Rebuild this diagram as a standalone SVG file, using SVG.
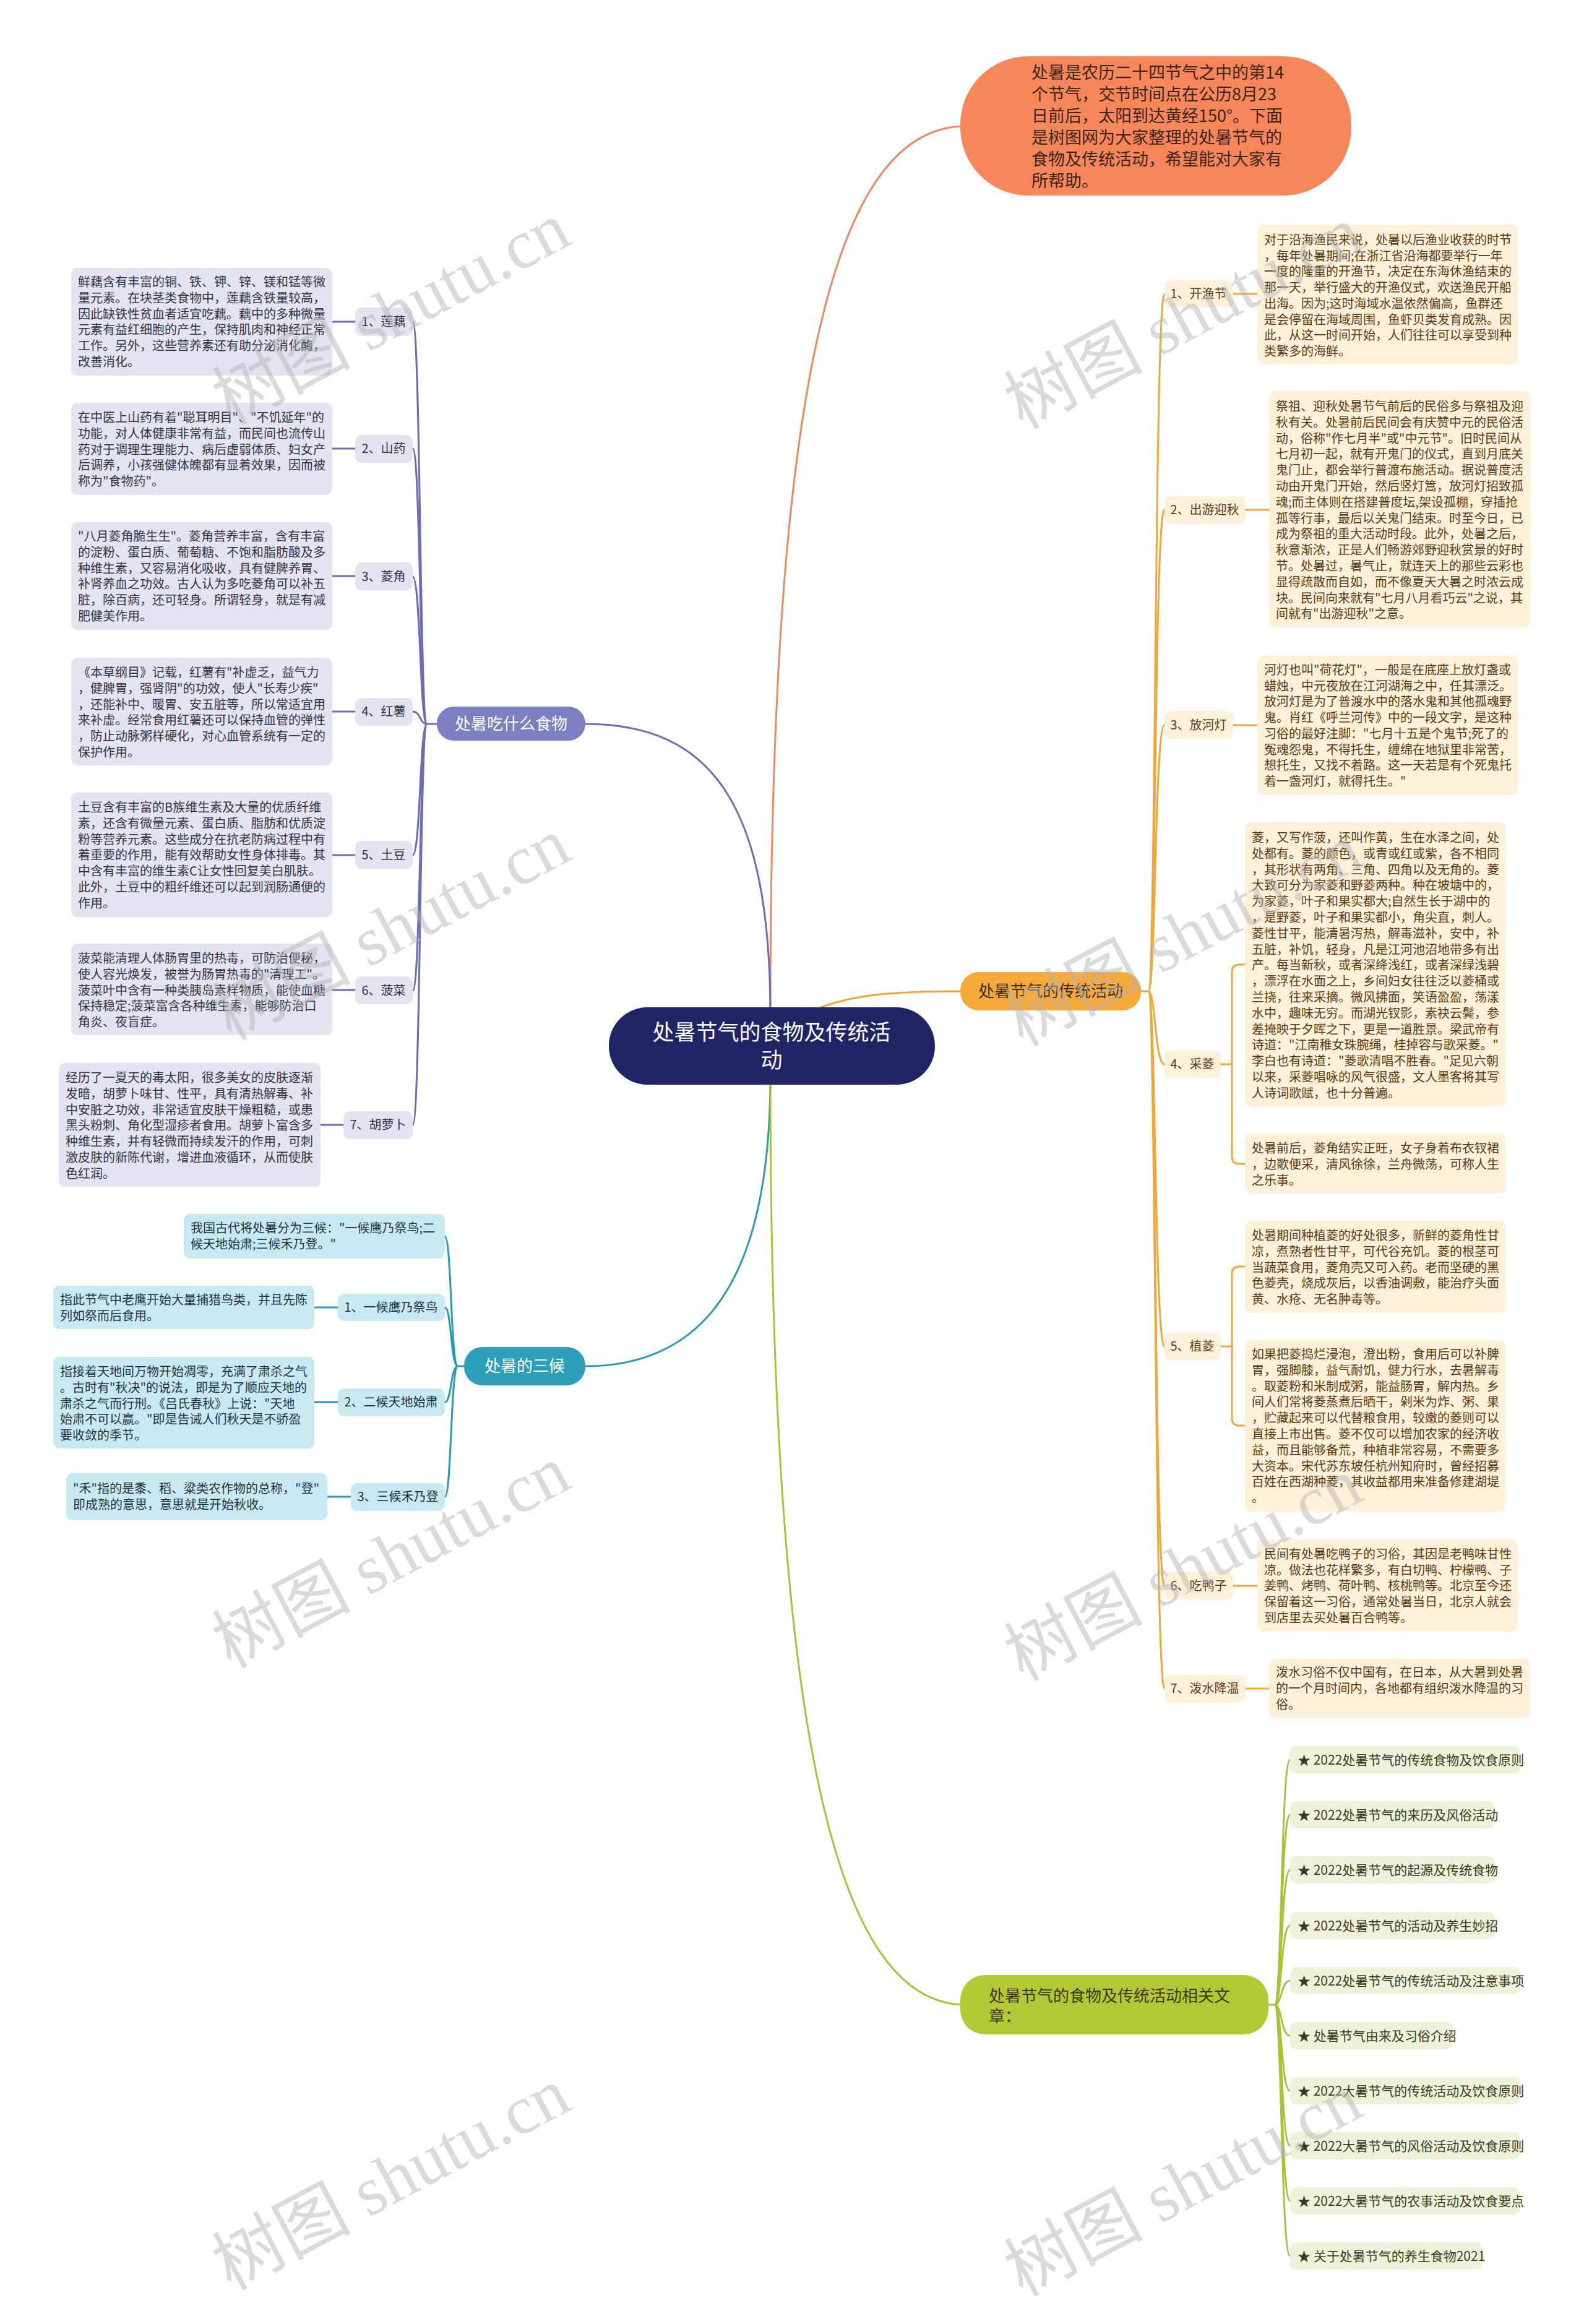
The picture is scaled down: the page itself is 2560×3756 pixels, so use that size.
<svg xmlns="http://www.w3.org/2000/svg" width="2560" height="3756" viewBox="0 0 2560 3756">
<style>
.t{font-family:"Noto Sans CJK SC","Noto Sans",sans-serif;font-size:20px}
.bp{fill:#E3E3F1}.bt{fill:#C9E9F2}.bo{fill:#FEF0D9}.bg{fill:#EEF2DA}
.tp{fill:#333344}.tt{fill:#1d3440}.to{fill:#5a3a12}.tg{fill:#3a3a22}
.lp{stroke:#6D6DB6;fill:none;stroke-width:3}
.lt{stroke:#2A9BB6;fill:none;stroke-width:3}
.lo{stroke:#F2A53A;fill:none;stroke-width:3}
.lg{stroke:#AAC23A;fill:none;stroke-width:3}
.lc{stroke:#F0875E;fill:none;stroke-width:3}
.lab{font-family:"Noto Sans CJK SC","Noto Sans",sans-serif;font-size:20px;text-anchor:middle}
.br{font-family:"Noto Sans CJK SC","Noto Sans",sans-serif;font-size:26px;text-anchor:middle}
.wm{font-family:"Liberation Serif","Noto Sans CJK SC",serif;font-size:112px;fill:#b4b4b4;opacity:.48;text-anchor:middle}
</style>
<rect width="2560" height="3756" fill="#ffffff"/>

<g id="connectors">
<path class="lc" stroke-width="4" d="M1245 1640 C1245 700 1330 204 1560 204"/>
<path class="lp" stroke-width="4" d="M1245 1640 C1245 1300 1150 1170 946 1170"/>
<path class="lt" stroke-width="4" d="M1245 1740 C1245 2050 1150 2208 946 2208"/>
<path class="lg" stroke-width="4" d="M1245 1740 C1245 2800 1350 3240 1560 3240"/>
<path class="lo" stroke-width="4" d="M1316 1632 C1380 1606 1450 1602 1556 1602"/>
<path class="lp" d="M706 1170 H690 C678 1170 680 520 667 520 M690 1170 C678 1170 680 725 667 725 M690 1170 C678 1170 680 932 667 932 M690 1170 C678 1170 680 1150 667 1150 M690 1170 C678 1170 680 1382 667 1382 M690 1170 C678 1170 680 1601 667 1601 M690 1170 C678 1170 680 1818 667 1818"/>
<path class="lp" d="M537 520 H574 M537 725 H574 M537 931 H574 M537 1150 H574 M537 1382 H574 M537 1600 H574 M518 1818 H555"/>
<path class="lt" d="M750 2208 H740 C728 2208 730 1998 719 1998 M740 2208 C728 2208 730 2113 719 2113 M740 2208 C728 2208 730 2266 719 2266 M740 2208 C728 2208 730 2419 719 2419"/>
<path class="lt" d="M508 2113 H546 M508 2266 H546 M529 2419 H567"/>
<path class="lo" d="M1844 1602 H1856 C1868 1602 1866 475 1882 475 M1856 1602 C1868 1602 1866 824 1882 824 M1856 1602 C1868 1602 1866 1172 1882 1172 M1856 1602 C1868 1602 1866 1720 1882 1720 M1856 1602 C1868 1602 1866 2176 1882 2176 M1856 1602 C1868 1602 1866 2563 1882 2563 M1856 1602 C1868 1602 1866 2729 1882 2729"/>
<path class="lo" d="M1993 475 H2032 M2013 824 H2051 M1993 1172 H2032 M1993 2563 H2032 M2013 2729 H2051"/>
<path class="lo" d="M1973 1720 H1991 M2012 1559 H2003 Q1991 1559 1991 1571 V1869 Q1991 1881 2003 1881 H2012"/>
<path class="lo" d="M1973 2176 H1991 M2012 2047 H2003 Q1991 2047 1991 2059 V2292 Q1991 2304 2003 2304 H2012"/>
<path class="lg" d="M2050 3240 H2060 C2072 3240 2070 2844 2085 2844 M2060 3240 C2072 3240 2070 2933 2085 2933 M2060 3240 C2072 3240 2070 3022 2085 3022 M2060 3240 C2072 3240 2070 3112 2085 3112 M2060 3240 C2072 3240 2070 3201 2085 3201 M2060 3240 C2072 3240 2070 3290 2085 3290 M2060 3240 C2072 3240 2070 3379 2085 3379 M2060 3240 C2072 3240 2070 3468 2085 3468 M2060 3240 C2072 3240 2070 3557 2085 3557 M2060 3240 C2072 3240 2070 3646 2085 3646"/>
</g>

<g id="root">
<rect x="984" y="1628" width="527" height="125" rx="62" fill="#1E2466"/>
<text class="br" x="1247" y="1681" fill="#ffffff" style="font-size:35px">处暑节气的食物及传统活</text>
<text class="br" x="1247" y="1726" fill="#ffffff" style="font-size:35px">动</text>
</g>

<g id="intro">
<rect x="1552" y="91" width="632" height="225" rx="110" fill="#F8865B"/>
<text class="t" style="font-size:27px" fill="#3a2418"><tspan x="1667" y="127">处暑是农历二十四节气之中的第14</tspan><tspan x="1667" dy="35">个节气，交节时间点在公历8月23</tspan><tspan x="1667" dy="35">日前后，太阳到达黄经150°。下面</tspan><tspan x="1667" dy="35">是树图网为大家整理的处暑节气的</tspan><tspan x="1667" dy="35">食物及传统活动，希望能对大家有</tspan><tspan x="1667" dy="35">所帮助。</tspan></text>
</g>

<g id="branch-food">
<rect x="706" y="1142" width="240" height="55" rx="27" fill="#7D7FC2"/>
<text class="br" x="826" y="1179" fill="#ffffff">处暑吃什么食物</text>
</g>
<g id="branch-hou">
<rect x="750" y="2177" width="196" height="62" rx="30" fill="#2E9FBA"/>
<text class="br" x="848" y="2217" fill="#ffffff">处暑的三候</text>
</g>
<g id="branch-act">
<rect x="1552" y="1571" width="292" height="62" rx="30" fill="#F6A93B"/>
<text class="br" x="1698" y="1611" fill="#3a2a14">处暑节气的传统活动</text>
</g>
<g id="branch-art">
<rect x="1552" y="3192" width="498" height="96" rx="40" fill="#B2C834"/>
<text class="t" style="font-size:26px" fill="#3a3a14"><tspan x="1598" y="3235">处暑节气的食物及传统活动相关文</tspan><tspan x="1598" dy="33">章：</tspan></text>
</g>

<g id="food-1">
<rect class="bp" x="574" y="497" width="93" height="46" rx="10"/><text class="lab tp" x="620" y="527">1、莲藕</text>
<rect class="bp" x="115" y="433" width="422" height="174" rx="10"/>
<text class="t tp"><tspan x="126" y="463">鲜藕含有丰富的铜、铁、钾、锌、镁和锰等微</tspan><tspan x="126" dy="25.8">量元素。在块茎类食物中，莲藕含铁量较高，</tspan><tspan x="126" dy="25.8">因此缺铁性贫血者适宜吃藕。藕中的多种微量</tspan><tspan x="126" dy="25.8">元素有益红细胞的产生，保持肌肉和神经正常</tspan><tspan x="126" dy="25.8">工作。另外，这些营养素还有助分泌消化酶，</tspan><tspan x="126" dy="25.8">改善消化。</tspan></text>
</g>
<g id="food-2">
<rect class="bp" x="574" y="703" width="93" height="45" rx="10"/><text class="lab tp" x="620" y="732">2、山药</text>
<rect class="bp" x="115" y="651" width="422" height="149" rx="10"/>
<text class="t tp"><tspan x="126" y="682">在中医上山药有着"聪耳明目"、"不饥延年"的</tspan><tspan x="126" dy="25.8">功能，对人体健康非常有益，而民间也流传山</tspan><tspan x="126" dy="25.8">药对于调理生理能力、病后虚弱体质、妇女产</tspan><tspan x="126" dy="25.8">后调养，小孩强健体魄都有显着效果，因而被</tspan><tspan x="126" dy="25.8">称为"食物药"。</tspan></text>
</g>
<g id="food-3">
<rect class="bp" x="574" y="909" width="93" height="45" rx="10"/><text class="lab tp" x="620" y="939">3、菱角</text>
<rect class="bp" x="115" y="844" width="422" height="174" rx="10"/>
<text class="t tp"><tspan x="126" y="874">"八月菱角脆生生"。菱角营养丰富，含有丰富</tspan><tspan x="126" dy="25.8">的淀粉、蛋白质、葡萄糖、不饱和脂肪酸及多</tspan><tspan x="126" dy="25.8">种维生素，又容易消化吸收，具有健脾养胃、</tspan><tspan x="126" dy="25.8">补肾养血之功效。古人认为多吃菱角可以补五</tspan><tspan x="126" dy="25.8">脏，除百病，还可轻身。所谓轻身，就是有减</tspan><tspan x="126" dy="25.8">肥健美作用。</tspan></text>
</g>
<g id="food-4">
<rect class="bp" x="574" y="1128" width="93" height="45" rx="10"/><text class="lab tp" x="620" y="1157">4、红薯</text>
<rect class="bp" x="115" y="1063" width="422" height="174" rx="10"/>
<text class="t tp"><tspan x="126" y="1094">《本草纲目》记载，红薯有"补虚乏，益气力</tspan><tspan x="126" dy="25.8">，健脾胃，强肾阴"的功效，使人"长寿少疾"</tspan><tspan x="126" dy="25.8">，还能补中、暖胃、安五脏等，所以常适宜用</tspan><tspan x="126" dy="25.8">来补虚。经常食用红薯还可以保持血管的弹性</tspan><tspan x="126" dy="25.8">，防止动脉粥样硬化，对心血管系统有一定的</tspan><tspan x="126" dy="25.8">保护作用。</tspan></text>
</g>
<g id="food-5">
<rect class="bp" x="574" y="1359" width="93" height="45" rx="10"/><text class="lab tp" x="620" y="1389">5、土豆</text>
<rect class="bp" x="115" y="1281" width="422" height="201" rx="10"/>
<text class="t tp"><tspan x="126" y="1312">土豆含有丰富的B族维生素及大量的优质纤维</tspan><tspan x="126" dy="25.8">素，还含有微量元素、蛋白质、脂肪和优质淀</tspan><tspan x="126" dy="25.8">粉等营养元素。这些成分在抗老防病过程中有</tspan><tspan x="126" dy="25.8">着重要的作用，能有效帮助女性身体排毒。其</tspan><tspan x="126" dy="25.8">中含有丰富的维生素C让女性回复美白肌肤。</tspan><tspan x="126" dy="25.8">此外，土豆中的粗纤维还可以起到润肠通便的</tspan><tspan x="126" dy="25.8">作用。</tspan></text>
</g>
<g id="food-6">
<rect class="bp" x="574" y="1578" width="93" height="45" rx="10"/><text class="lab tp" x="620" y="1608">6、菠菜</text>
<rect class="bp" x="115" y="1525" width="422" height="148" rx="10"/>
<text class="t tp"><tspan x="126" y="1556">菠菜能清理人体肠胃里的热毒，可防治便秘，</tspan><tspan x="126" dy="25.8">使人容光焕发，被誉为肠胃热毒的"清理工"。</tspan><tspan x="126" dy="25.8">菠菜叶中含有一种类胰岛素样物质，能使血糖</tspan><tspan x="126" dy="25.8">保持稳定;菠菜富含各种维生素，能够防治口</tspan><tspan x="126" dy="25.8">角炎、夜盲症。</tspan></text>
</g>
<g id="food-7">
<rect class="bp" x="555" y="1796" width="112" height="45" rx="10"/><text class="lab tp" x="611" y="1825">7、胡萝卜</text>
<rect class="bp" x="95" y="1718" width="423" height="200" rx="10"/>
<text class="t tp"><tspan x="106" y="1749">经历了一夏天的毒太阳，很多美女的皮肤逐渐</tspan><tspan x="106" dy="25.8">发暗，胡萝卜味甘、性平，具有清热解毒、补</tspan><tspan x="106" dy="25.8">中安脏之功效，非常适宜皮肤干燥粗糙，或患</tspan><tspan x="106" dy="25.8">黑头粉刺、角化型湿疹者食用。胡萝卜富含多</tspan><tspan x="106" dy="25.8">种维生素，并有轻微而持续发汗的作用，可刺</tspan><tspan x="106" dy="25.8">激皮肤的新陈代谢，增进血液循环，从而使肤</tspan><tspan x="106" dy="25.8">色红润。</tspan></text>
</g>

<g id="hou-0">
<rect class="bt" x="297" y="1962" width="422" height="72" rx="10"/>
<text class="t tt"><tspan x="308" y="1992">我国古代将处暑分为三候："一候鹰乃祭鸟;二</tspan><tspan x="308" dy="26">候天地始肃;三候禾乃登。"</tspan></text>
</g>
<g id="hou-1">
<rect class="bt" x="546" y="2091" width="173" height="44" rx="10"/><text class="lab tt" x="632" y="2120">1、一候鹰乃祭鸟</text>
<rect class="bt" x="86" y="2078" width="422" height="70" rx="10"/>
<text class="t tt"><tspan x="97" y="2108">指此节气中老鹰开始大量捕猎鸟类，并且先陈</tspan><tspan x="97" dy="26">列如祭而后食用。</tspan></text>
</g>
<g id="hou-2">
<rect class="bt" x="546" y="2244" width="173" height="45" rx="10"/><text class="lab tt" x="632" y="2273">2、二候天地始肃</text>
<rect class="bt" x="86" y="2193" width="422" height="148" rx="10"/>
<text class="t tt"><tspan x="97" y="2224">指接着天地间万物开始凋零，充满了肃杀之气</tspan><tspan x="97" dy="25.8">。古时有"秋决"的说法，即是为了顺应天地的</tspan><tspan x="97" dy="25.8">肃杀之气而行刑。《吕氏春秋》上说："天地</tspan><tspan x="97" dy="25.8">始肃不可以赢。"即是告诫人们秋天是不骄盈</tspan><tspan x="97" dy="25.8">要收敛的季节。</tspan></text>
</g>
<g id="hou-3">
<rect class="bt" x="567" y="2397" width="152" height="45" rx="10"/><text class="lab tt" x="643" y="2426">3、三候禾乃登</text>
<rect class="bt" x="107" y="2381" width="422" height="76" rx="10"/>
<text class="t tt"><tspan x="118" y="2413">"禾"指的是黍、稻、粱类农作物的总称，"登"</tspan><tspan x="118" dy="26">即成熟的意思，意思就是开始秋收。</tspan></text>
</g>

<g id="act-1">
<rect class="bo" x="1882" y="453" width="111" height="44" rx="10"/><text class="lab to" x="1937" y="482">1、开渔节</text>
<rect class="bo" x="2032" y="363" width="421" height="226" rx="10"/>
<text class="t to"><tspan x="2043" y="395">对于沿海渔民来说，处暑以后渔业收获的时节</tspan><tspan x="2043" dy="25.7">，每年处暑期间;在浙江省沿海都要举行一年</tspan><tspan x="2043" dy="25.7">一度的隆重的开渔节，决定在东海休渔结束的</tspan><tspan x="2043" dy="25.7">那一天，举行盛大的开渔仪式，欢送渔民开船</tspan><tspan x="2043" dy="25.7">出海。因为;这时海域水温依然偏高，鱼群还</tspan><tspan x="2043" dy="25.7">是会停留在海域周围，鱼虾贝类发育成熟。因</tspan><tspan x="2043" dy="25.7">此，从这一时间开始，人们往往可以享受到种</tspan><tspan x="2043" dy="25.7">类繁多的海鲜。</tspan></text>
</g>
<g id="act-2">
<rect class="bo" x="1882" y="802" width="131" height="45" rx="10"/><text class="lab to" x="1947" y="831">2、出游迎秋</text>
<rect class="bo" x="2051" y="632" width="422" height="382" rx="10"/>
<text class="t to"><tspan x="2062" y="664">祭祖、迎秋处暑节气前后的民俗多与祭祖及迎</tspan><tspan x="2062" dy="25.8">秋有关。处暑前后民间会有庆赞中元的民俗活</tspan><tspan x="2062" dy="25.8">动，俗称"作七月半"或"中元节"。旧时民间从</tspan><tspan x="2062" dy="25.8">七月初一起，就有开鬼门的仪式，直到月底关</tspan><tspan x="2062" dy="25.8">鬼门止，都会举行普渡布施活动。据说普度活</tspan><tspan x="2062" dy="25.8">动由开鬼门开始，然后竖灯篙，放河灯招致孤</tspan><tspan x="2062" dy="25.8">魂;而主体则在搭建普度坛,架设孤棚，穿插抢</tspan><tspan x="2062" dy="25.8">孤等行事，最后以关鬼门结束。时至今日，已</tspan><tspan x="2062" dy="25.8">成为祭祖的重大活动时段。此外，处暑之后，</tspan><tspan x="2062" dy="25.8">秋意渐浓，正是人们畅游郊野迎秋赏景的好时</tspan><tspan x="2062" dy="25.8">节。处暑过，暑气止，就连天上的那些云彩也</tspan><tspan x="2062" dy="25.8">显得疏散而自如，而不像夏天大暑之时浓云成</tspan><tspan x="2062" dy="25.8">块。民间向来就有"七月八月看巧云"之说，其</tspan><tspan x="2062" dy="25.8">间就有"出游迎秋"之意。</tspan></text>
</g>
<g id="act-3">
<rect class="bo" x="1882" y="1149" width="111" height="45" rx="10"/><text class="lab to" x="1937" y="1179">3、放河灯</text>
<rect class="bo" x="2032" y="1059" width="421" height="226" rx="10"/>
<text class="t to"><tspan x="2043" y="1090">河灯也叫"荷花灯"，一般是在底座上放灯盏或</tspan><tspan x="2043" dy="25.7">蜡烛，中元夜放在江河湖海之中，任其漂泛。</tspan><tspan x="2043" dy="25.7">放河灯是为了普渡水中的落水鬼和其他孤魂野</tspan><tspan x="2043" dy="25.7">鬼。肖红《呼兰河传》中的一段文字，是这种</tspan><tspan x="2043" dy="25.7">习俗的最好注脚："七月十五是个鬼节;死了的</tspan><tspan x="2043" dy="25.7">冤魂怨鬼，不得托生，缠绵在地狱里非常苦，</tspan><tspan x="2043" dy="25.7">想托生，又找不着路。这一天若是有个死鬼托</tspan><tspan x="2043" dy="25.7">着一盏河灯，就得托生。"</tspan></text>
</g>
<g id="act-4">
<rect class="bo" x="1882" y="1698" width="91" height="44" rx="10"/><text class="lab to" x="1927" y="1727">4、采菱</text>
<rect class="bo" x="2012" y="1329" width="421" height="460" rx="10"/>
<text class="t to"><tspan x="2023" y="1361">菱，又写作菠，还叫作黄，生在水泽之间，处</tspan><tspan x="2023" dy="25.8">处都有。菱的颜色，或青或红或紫，各不相同</tspan><tspan x="2023" dy="25.8">，其形状有两角、三角、四角以及无角的。菱</tspan><tspan x="2023" dy="25.8">大致可分为家菱和野菱两种。种在坡塘中的，</tspan><tspan x="2023" dy="25.8">为家菱，叶子和果实都大;自然生长于湖中的</tspan><tspan x="2023" dy="25.8">，是野菱，叶子和果实都小，角尖直，刺人。</tspan><tspan x="2023" dy="25.8">菱性甘平，能清暑泻热，解毒滋补，安中，补</tspan><tspan x="2023" dy="25.8">五脏，补饥，轻身，凡是江河池沼地带多有出</tspan><tspan x="2023" dy="25.8">产。每当新秋，或者深绛浅红，或者深绿浅碧</tspan><tspan x="2023" dy="25.8">，漂浮在水面之上，乡间妇女往往泛以菱桶或</tspan><tspan x="2023" dy="25.8">兰挠，往来采摘。微风拂面，笑语盈盈，荡漾</tspan><tspan x="2023" dy="25.8">水中，趣味无穷。而湖光钗影，素袂云鬓，参</tspan><tspan x="2023" dy="25.8">差掩映于夕晖之下，更是一道胜景。梁武帝有</tspan><tspan x="2023" dy="25.8">诗道："江南稚女珠腕绳，桂掉容与歌采菱。"</tspan><tspan x="2023" dy="25.8">李白也有诗道："菱歌清唱不胜春。"足见六朝</tspan><tspan x="2023" dy="25.8">以来，采菱唱咏的风气很盛，文人墨客将其写</tspan><tspan x="2023" dy="25.8">人诗词歌赋，也十分普遍。</tspan></text>
<rect class="bo" x="2012" y="1832" width="421" height="97" rx="10"/>
<text class="t to"><tspan x="2023" y="1863">处暑前后，菱角结实正旺，女子身着布衣钗裙</tspan><tspan x="2023" dy="25.8">，边歌便采，清风徐徐，兰舟微荡，可称人生</tspan><tspan x="2023" dy="25.8">之乐事。</tspan></text>
</g>
<g id="act-5">
<rect class="bo" x="1882" y="2154" width="91" height="44" rx="10"/><text class="lab to" x="1927" y="2183">5、植菱</text>
<rect class="bo" x="2012" y="1973" width="421" height="149" rx="10"/>
<text class="t to"><tspan x="2023" y="2004">处暑期间种植菱的好处很多，新鲜的菱角性甘</tspan><tspan x="2023" dy="25.8">凉，煮熟者性甘平，可代谷充饥。菱的根茎可</tspan><tspan x="2023" dy="25.8">当蔬菜食用，菱角壳又可入药。老而坚硬的黑</tspan><tspan x="2023" dy="25.8">色菱壳，烧成灰后，以香油调敷，能治疗头面</tspan><tspan x="2023" dy="25.8">黄、水疮、无名肿毒等。</tspan></text>
<rect class="bo" x="2012" y="2166" width="421" height="277" rx="10"/>
<text class="t to"><tspan x="2023" y="2196">如果把菱捣烂浸泡，澄出粉，食用后可以补脾</tspan><tspan x="2023" dy="25.8">胃，强脚膝，益气耐饥，健力行水，去暑解毒</tspan><tspan x="2023" dy="25.8">。取菱粉和米制成粥，能益肠胃，解内热。乡</tspan><tspan x="2023" dy="25.8">间人们常将菱蒸煮后晒干，剁米为炸、粥、果</tspan><tspan x="2023" dy="25.8">，贮藏起来可以代替粮食用，较嫩的菱则可以</tspan><tspan x="2023" dy="25.8">直接上市出售。菱不仅可以增加农家的经济收</tspan><tspan x="2023" dy="25.8">益，而且能够备荒，种植非常容易，不需要多</tspan><tspan x="2023" dy="25.8">大资本。宋代苏东坡任杭州知府时，曾经招募</tspan><tspan x="2023" dy="25.8">百姓在西湖种菱，其收益都用来准备修建湖堤</tspan><tspan x="2023" dy="25.8">。</tspan></text>
</g>
<g id="act-6">
<rect class="bo" x="1882" y="2540" width="111" height="45" rx="10"/><text class="lab to" x="1937" y="2570">6、吃鸭子</text>
<rect class="bo" x="2032" y="2488" width="421" height="149" rx="10"/>
<text class="t to"><tspan x="2043" y="2519">民间有处暑吃鸭子的习俗，其因是老鸭味甘性</tspan><tspan x="2043" dy="25.7">凉。做法也花样繁多，有白切鸭、柠檬鸭、子</tspan><tspan x="2043" dy="25.7">姜鸭、烤鸭、荷叶鸭、核桃鸭等。北京至今还</tspan><tspan x="2043" dy="25.7">保留着这一习俗，通常处暑当日，北京人就会</tspan><tspan x="2043" dy="25.7">到店里去买处暑百合鸭等。</tspan></text>
</g>
<g id="act-7">
<rect class="bo" x="1882" y="2707" width="131" height="45" rx="10"/><text class="lab to" x="1947" y="2736">7、泼水降温</text>
<rect class="bo" x="2051" y="2681" width="422" height="96" rx="10"/>
<text class="t to"><tspan x="2062" y="2710">泼水习俗不仅中国有，在日本，从大暑到处暑</tspan><tspan x="2062" dy="25.8">的一个月时间内，各地都有组织泼水降温的习</tspan><tspan x="2062" dy="25.8">俗。</tspan></text>
</g>

<g id="art-1"><rect class="bg" x="2085" y="2822" width="372" height="44" rx="10"/><text class="t tg" style="font-size:21px" x="2097" y="2852">★ 2022处暑节气的传统食物及饮食原则</text></g>
<g id="art-2"><rect class="bg" x="2085" y="2911" width="331" height="44" rx="10"/><text class="t tg" style="font-size:21px" x="2097" y="2941">★ 2022处暑节气的来历及风俗活动</text></g>
<g id="art-3"><rect class="bg" x="2085" y="3000" width="331" height="44" rx="10"/><text class="t tg" style="font-size:21px" x="2097" y="3030">★ 2022处暑节气的起源及传统食物</text></g>
<g id="art-4"><rect class="bg" x="2085" y="3090" width="331" height="44" rx="10"/><text class="t tg" style="font-size:21px" x="2097" y="3120">★ 2022处暑节气的活动及养生妙招</text></g>
<g id="art-5"><rect class="bg" x="2085" y="3179" width="372" height="44" rx="10"/><text class="t tg" style="font-size:21px" x="2097" y="3209">★ 2022处暑节气的传统活动及注意事项</text></g>
<g id="art-6"><rect class="bg" x="2085" y="3268" width="263" height="44" rx="10"/><text class="t tg" style="font-size:21px" x="2097" y="3298">★ 处暑节气由来及习俗介绍</text></g>
<g id="art-7"><rect class="bg" x="2085" y="3357" width="372" height="44" rx="10"/><text class="t tg" style="font-size:21px" x="2097" y="3387">★ 2022大暑节气的传统活动及饮食原则</text></g>
<g id="art-8"><rect class="bg" x="2085" y="3446" width="372" height="44" rx="10"/><text class="t tg" style="font-size:21px" x="2097" y="3476">★ 2022大暑节气的风俗活动及饮食原则</text></g>
<g id="art-9"><rect class="bg" x="2085" y="3535" width="372" height="44" rx="10"/><text class="t tg" style="font-size:21px" x="2097" y="3565">★ 2022大暑节气的农事活动及饮食要点</text></g>
<g id="art-10"><rect class="bg" x="2085" y="3624" width="311" height="44" rx="10"/><text class="t tg" style="font-size:21px" x="2097" y="3654">★ 关于处暑节气的养生食物2021</text></g>

<g id="watermarks">
<text class="wm" transform="translate(650 540) rotate(-28)">树图 shutu.cn</text>
<text class="wm" transform="translate(1930 547) rotate(-28)">树图 shutu.cn</text>
<text class="wm" transform="translate(650 1535) rotate(-28)">树图 shutu.cn</text>
<text class="wm" transform="translate(1930 1545) rotate(-28)">树图 shutu.cn</text>
<text class="wm" transform="translate(650 2550) rotate(-28)">树图 shutu.cn</text>
<text class="wm" transform="translate(1930 2570) rotate(-28)">树图 shutu.cn</text>
<text class="wm" transform="translate(650 3555) rotate(-28)">树图 shutu.cn</text>
<text class="wm" transform="translate(1930 3565) rotate(-28)">树图 shutu.cn</text>
</g>
</svg>
